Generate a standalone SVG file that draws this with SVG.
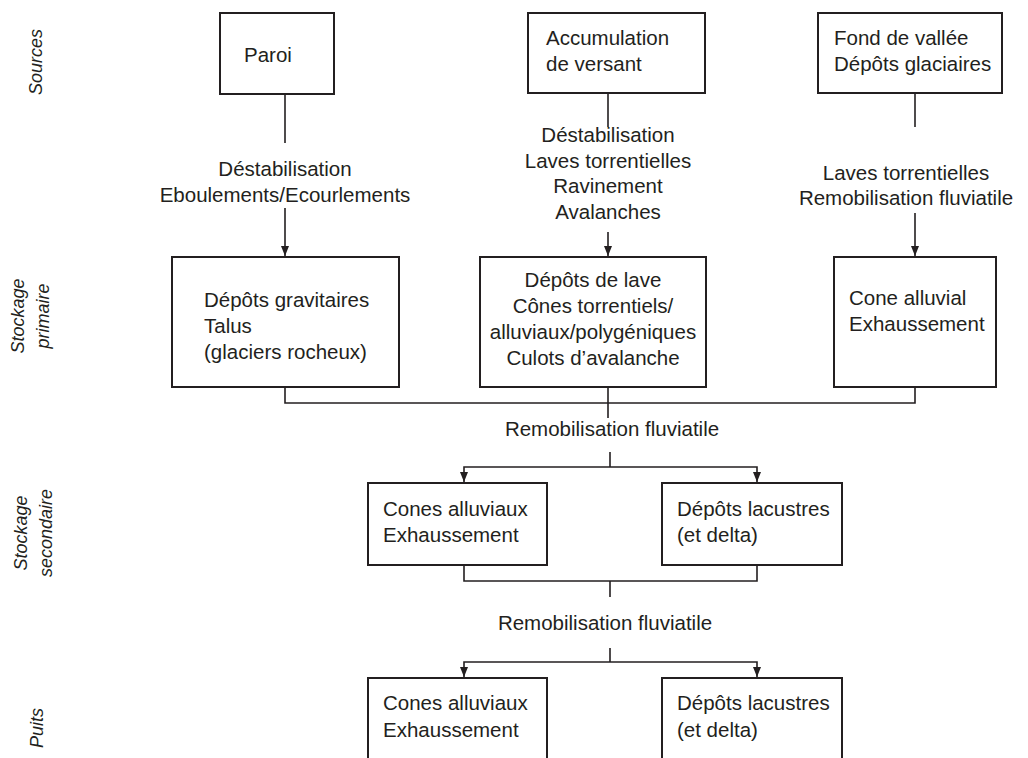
<svg xmlns="http://www.w3.org/2000/svg" width="1028" height="758" viewBox="0 0 1028 758">
<defs>
<style>
text{font-family:"Liberation Sans",Arial,sans-serif;fill:#231f20;}
.t{font-size:20.5px;}
.tc{font-size:20.5px;text-anchor:middle;}
.lab{font-size:18px;font-style:italic;text-anchor:middle;}
.box{fill:#fff;stroke:#231f20;stroke-width:2;}
.ln{fill:none;stroke:#231f20;stroke-width:1.6;}
</style>
<marker id="ah" markerUnits="userSpaceOnUse" markerWidth="10" markerHeight="10" viewBox="0 0 10 10" refX="10" refY="5" orient="auto">
<path d="M0,1 L10,5 L0,9 Z" fill="#231f20"/>
</marker>
</defs>
<rect width="1028" height="758" fill="#fff"/>

<g id="labels">
<text class="lab" transform="translate(42,62) rotate(-90)">Sources</text>
<text class="lab" transform="translate(24,316) rotate(-90)">Stockage</text>
<text class="lab" transform="translate(49,316) rotate(-90)">primaire</text>
<text class="lab" transform="translate(27,533) rotate(-90)">Stockage</text>
<text class="lab" transform="translate(52,533) rotate(-90)">secondaire</text>
<text class="lab" transform="translate(43,728) rotate(-90)">Puits</text>
</g>

<g id="connectors">
<path class="ln" d="M285,94 V143"/>
<path class="ln" d="M285,208 V256" marker-end="url(#ah)"/>
<path class="ln" d="M608,93 V127"/>
<path class="ln" d="M608,232 V256" marker-end="url(#ah)"/>
<path class="ln" d="M915,93 V127"/>
<path class="ln" d="M915,213 V256" marker-end="url(#ah)"/>
<path class="ln" d="M285,387 V403 H915 V387"/>
<path class="ln" d="M608,387 V418"/>
<path class="ln" d="M610,452 V467"/>
<path class="ln" d="M610,467 H464 V482" marker-end="url(#ah)"/>
<path class="ln" d="M610,467 H757 V482" marker-end="url(#ah)"/>
<path class="ln" d="M464,565 V581 H757 V565"/>
<path class="ln" d="M610,581 V597"/>
<path class="ln" d="M610,648 V662"/>
<path class="ln" d="M610,662 H464 V677" marker-end="url(#ah)"/>
<path class="ln" d="M610,662 H757 V677" marker-end="url(#ah)"/>
</g>

<g id="edge-labels">
<text class="tc" x="285" y="176">Déstabilisation</text>
<text class="tc" x="285" y="202">Eboulements/Ecourlements</text>
<text class="tc" x="608" y="142">Déstabilisation</text>
<text class="tc" x="608" y="168">Laves torrentielles</text>
<text class="tc" x="608" y="193">Ravinement</text>
<text class="tc" x="608" y="219">Avalanches</text>
<text class="tc" x="906" y="180">Laves torrentielles</text>
<text class="tc" x="906" y="205">Remobilisation fluviatile</text>
<text class="tc" x="612" y="436">Remobilisation fluviatile</text>
<text class="tc" x="605" y="630">Remobilisation fluviatile</text>
</g>

<g id="n-paroi">
<rect class="box" x="220" y="13" width="114" height="81"/>
<text class="t" x="244" y="62">Paroi</text>
</g>
<g id="n-accumulation">
<rect class="box" x="528" y="13" width="177" height="80"/>
<text class="t" x="546" y="45">Accumulation</text>
<text class="t" x="546" y="71">de versant</text>
</g>
<g id="n-fond">
<rect class="box" x="818" y="13" width="184" height="80"/>
<text class="t" x="834" y="45">Fond de vallée</text>
<text class="t" x="834" y="71">Dépôts glaciaires</text>
</g>
<g id="n-gravitaires">
<rect class="box" x="172" y="257" width="227" height="130"/>
<text class="t" x="204" y="307">Dépôts gravitaires</text>
<text class="t" x="204" y="333">Talus</text>
<text class="t" x="204" y="359">(glaciers rocheux)</text>
</g>
<g id="n-lave">
<rect class="box" x="480" y="257" width="226" height="130"/>
<text class="tc" x="593" y="287">Dépôts de lave</text>
<text class="tc" x="593" y="313">Cônes torrentiels/</text>
<text class="tc" x="593" y="339">alluviaux/polygéniques</text>
<text class="tc" x="593" y="365">Culots d’avalanche</text>
</g>
<g id="n-cone">
<rect class="box" x="834" y="257" width="162" height="130"/>
<text class="t" x="849" y="305">Cone alluvial</text>
<text class="t" x="849" y="331">Exhaussement</text>
</g>
<g id="n-sec-cones">
<rect class="box" x="368" y="483" width="179" height="82"/>
<text class="t" x="383" y="516">Cones alluviaux</text>
<text class="t" x="383" y="542">Exhaussement</text>
</g>
<g id="n-sec-lacustres">
<rect class="box" x="662" y="483" width="180" height="82"/>
<text class="t" x="677" y="516">Dépôts lacustres</text>
<text class="t" x="677" y="542">(et delta)</text>
</g>
<g id="n-puits-cones">
<rect class="box" x="368" y="678" width="179" height="100"/>
<text class="t" x="383" y="710">Cones alluviaux</text>
<text class="t" x="383" y="737">Exhaussement</text>
</g>
<g id="n-puits-lacustres">
<rect class="box" x="662" y="678" width="180" height="100"/>
<text class="t" x="677" y="710">Dépôts lacustres</text>
<text class="t" x="677" y="737">(et delta)</text>
</g>
</svg>
